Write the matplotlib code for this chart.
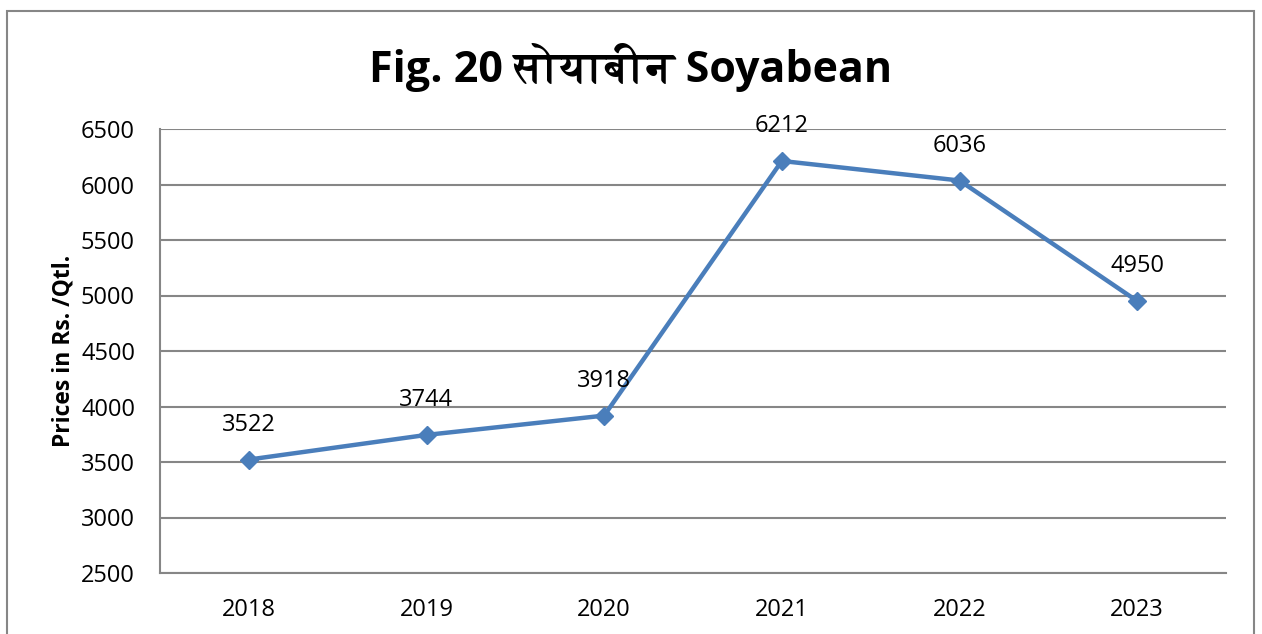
import matplotlib
matplotlib.use("Agg")
import matplotlib.pyplot as plt
from matplotlib import font_manager
from matplotlib.ft2font import FT2Font
from matplotlib.patches import Rectangle

years = ["2018", "2019", "2020", "2021", "2022", "2023"]
prices = [3522, 3744, 3918, 6212, 6036, 4950]
yticks = [2500, 3000, 3500, 4000, 4500, 5000, 5500, 6000, 6500]
title_text = "Fig. 20 सोयाबीन Soyabean"
ylabel_text = "Prices in Rs. /Qtl."

# find a font with Devanagari glyphs, if any
deva = None
for f in font_manager.fontManager.ttflist:
    try:
        ft = FT2Font(f.fname)
        if 0x0938 in ft.get_charmap():
            deva = f.name
            if f.weight in ("bold", 700):
                break
    except Exception:
        pass

base = "Open Sans"
plt.rcParams["font.family"] = [base, "DejaVu Sans"]

W, H = 1262, 634
fig = plt.figure(figsize=(W / 100, H / 100), dpi=100)
ax = fig.add_axes([160 / W, 1 - 573 / H, (1226 - 160) / W, (573 - 129) / H])

grid_c = "#868686"
line_c = "#4A7EBB"

x = list(range(len(years)))
ax.plot(x, prices, color=line_c, lw=3.2, marker="D", ms=9.5, zorder=3,
        solid_joinstyle="round")
for xi, v in zip(x, prices):
    ax.annotate(str(v), (xi, v), xytext=(0, 25), textcoords="offset points",
                ha="center", va="center", fontsize=17, color="black")

ax.set_xlim(-0.5, len(years) - 0.5)
ax.set_ylim(2500, 6500)
ax.set_yticks(yticks)
ax.set_yticklabels([str(t) for t in yticks])
ax.set_xticks(x)
ax.set_xticklabels(years)
ax.tick_params(axis="both", length=0, labelsize=17, colors="black")
ax.tick_params(axis="y", pad=18)
ax.tick_params(axis="x", pad=18)
ax.yaxis.grid(True, color=grid_c, lw=1.5)
ax.set_axisbelow(True)
for s in ["top", "right"]:
    ax.spines[s].set_visible(False)
for s in ["left", "bottom"]:
    ax.spines[s].set_color(grid_c)
    ax.spines[s].set_linewidth(1.5)

ax.set_ylabel(ylabel_text, fontsize=16.5, fontweight="bold", labelpad=4)

fams = [base] + ([deva] if deva else []) + ["DejaVu Sans"]
fig.text(0.5, 1 - 68 / H, title_text, ha="center", va="center",
         fontsize=31, fontweight="bold", family=fams)

fig.patches.append(Rectangle((7 / W, -0.1), (1254 - 7) / W, 1.1 - 11 / H,
                             transform=fig.transFigure, fill=False,
                             edgecolor=grid_c, lw=1.5))

fig.savefig("out.png", dpi=100)
